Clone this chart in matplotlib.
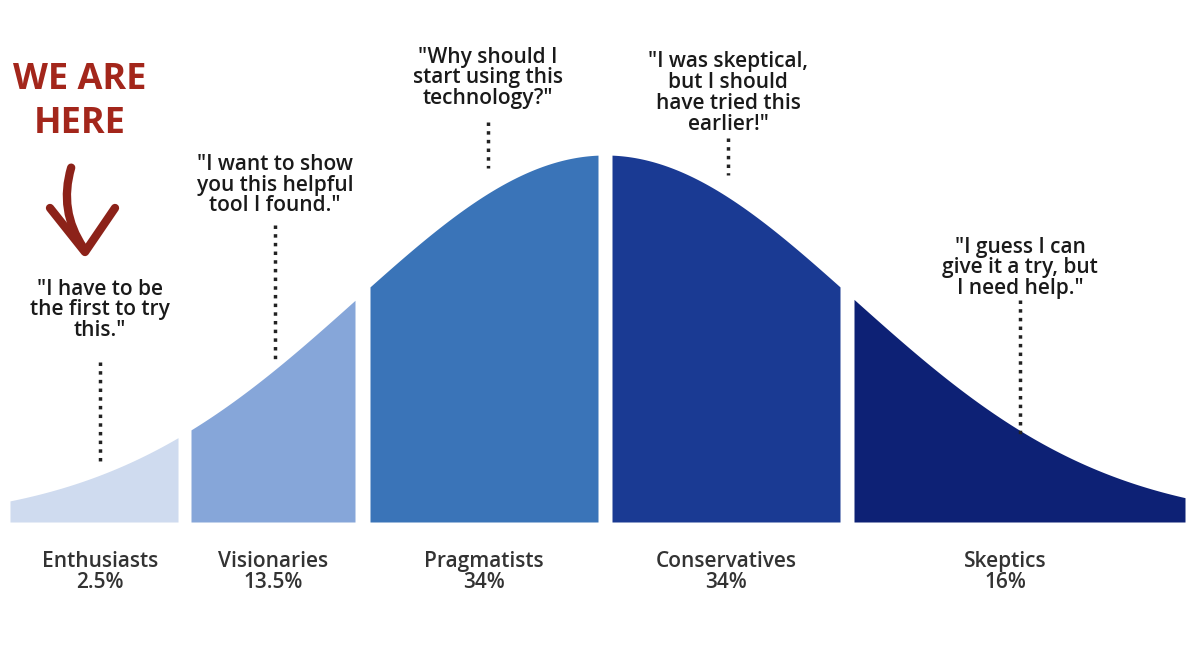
import numpy as np
import matplotlib.pyplot as plt
from matplotlib.patches import FancyArrowPatch

categories = ["Enthusiasts", "Visionaries", "Pragmatists", "Conservatives", "Skeptics"]
shares = ["2.5%", "13.5%", "34%", "34%", "16%"]
quotes = ['"I have to be\nthe first to try\nthis."',
          '"I want to show\nyou this helpful\ntool I found."',
          '"Why should I\nstart using this\ntechnology?"',
          '"I was skeptical,\nbut I should\nhave tried this\nearlier!"',
          '"I guess I can\ngive it a try, but\nI need help."']
colors = ["#cfdbef", "#86a6d9", "#3a74b8", "#1a3a93", "#0d2175"]

# segment extents in pixel space of the 1200x662 canvas
seg_x = [(10, 178), (191, 355), (370, 598), (612, 840), (854, 1185)]
base_y, peak_y, mu, sigma = 522, 155, 605, 249
# quote block centres, dotted line ends
quote_pos = [(100, 310), (275, 185), (488, 78), (728, 93), (1020, 268)]
dot_lines = [(100, 362, 465), (275, 225, 360), (488, 122, 168), (728, 138, 175), (1020, 300, 435)]

def curve(x):
    return base_y - (base_y - peak_y) * np.exp(-(x - mu) ** 2 / (2 * sigma ** 2))

fig = plt.figure(figsize=(12, 6.62), dpi=100)
ax = fig.add_axes([0, 0, 1, 1])
ax.set_xlim(0, 1200)
ax.set_ylim(662, 0)
ax.axis("off")

font = ["Open Sans", "DejaVu Sans"]
for i, (x0, x1) in enumerate(seg_x):
    xs = np.linspace(x0, x1, 200)
    ax.fill_between(xs, curve(xs), base_y, color=colors[i], lw=0)
    cx = (x0 + x1) / 2 if i < 4 else 1005
    if i == 0:
        cx = 100
    ax.text(cx, 572, f"{categories[i]}\n{shares[i]}", ha="center", va="center",
            fontsize=15, color="#333333", fontweight="semibold", linespacing=1.05, family=font)
    qx, qy = quote_pos[i]
    ax.text(qx, qy, quotes[i], ha="center", va="center", fontsize=15, color="#1a1a1a",
            fontweight="semibold", linespacing=0.98, family=font)
    lx, ly0, ly1 = dot_lines[i]
    ax.plot([lx, lx], [ly0, ly1], color="#222222", lw=2.5, ls=(0, (1, 1.5)))

ax.text(80, 102, "WE ARE\nHERE", ha="center", va="center", fontsize=26, fontweight="bold",
        color="#a3261b", linespacing=1.3, family=font)
arr = FancyArrowPatch((72, 165), (85, 250), connectionstyle="arc3,rad=0.25",
                      arrowstyle="-", color="#8c2219", lw=6)
ax.add_patch(arr)
ax.plot([50, 85, 115], [208, 252, 208], color="#8c2219", lw=6, solid_capstyle="round")

fig.savefig("out.png", dpi=100)
